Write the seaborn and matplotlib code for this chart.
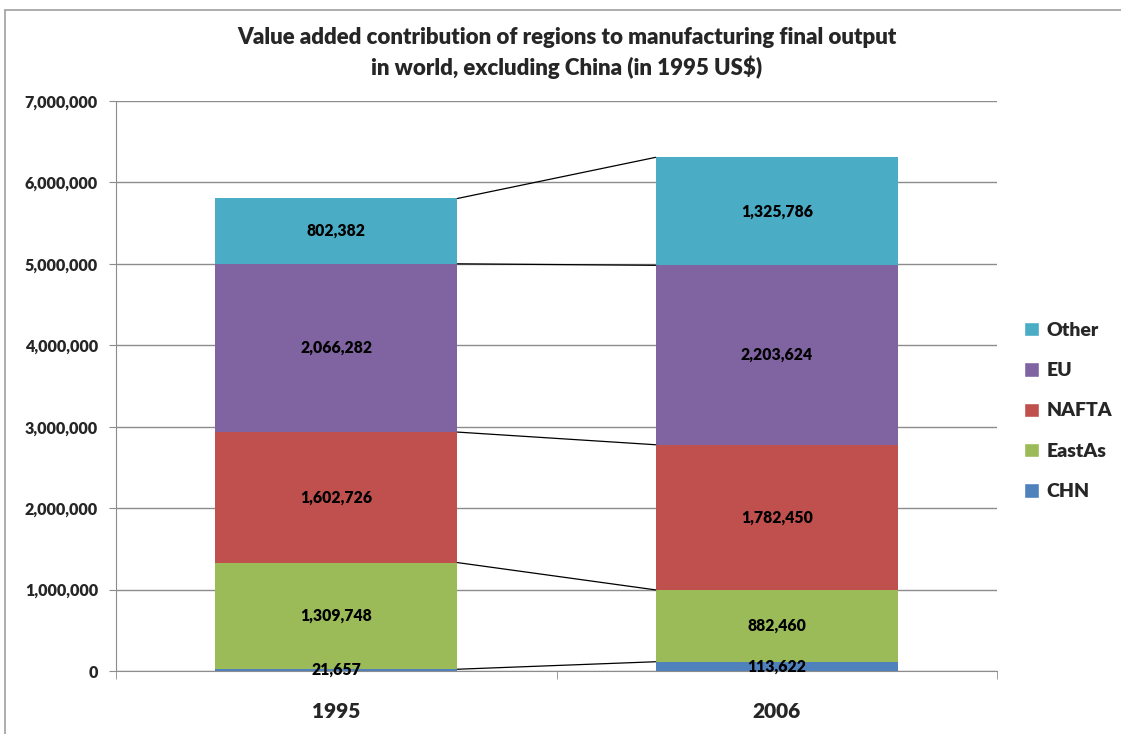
import matplotlib
matplotlib.use("Agg")
import matplotlib.pyplot as plt
import seaborn as sns
import numpy as np
from matplotlib.lines import Line2D
from matplotlib.patches import Patch
from matplotlib.ticker import FuncFormatter, FixedLocator

# data
years = ["1995", "2006"]
regions = ["CHN", "EastAs", "NAFTA", "EU", "Other"]
chn = [21657, 113622]
eastas = [1309748, 882460]
nafta = [1602726, 1782450]
eu = [2066282, 2203624]
other = [802382, 1325786]
colors = ["#4F81BD", "#9BBB59", "#C0504D", "#8064A2", "#4BACC6"]

sns.set_style("white")
plt.rcParams["font.family"] = ["Lato", "DejaVu Sans"]
W = 800  # heavy weight, closer to Calibri bold

fig = plt.figure(figsize=(11.21, 7.34), dpi=100)
ax = fig.add_axes([116 / 1121, 1 - 671 / 734, (997 - 116) / 1121, (671 - 101) / 734])

series = [chn, eastas, nafta, eu, other]
bottom = np.zeros(len(years))
bar_w = 0.55
tops = []
for name, vals, col in zip(regions, series, colors):
    vals = np.array(vals, dtype=float)
    sns.barplot(x=years, y=vals, bottom=bottom, color=col, width=bar_w,
                ax=ax, linewidth=0, saturation=1)
    for i, v in enumerate(vals):
        ax.text(i, bottom[i] + v / 2, f"{int(v):,}", ha="center", va="center",
                fontsize=11.3, fontweight=W, color="black")
    bottom = bottom + vals
    tops.append(bottom.copy())

# connector lines between series tops
for t in tops:
    ax.plot([bar_w / 2, 1 - bar_w / 2], [t[0], t[1]], color="black", lw=0.9, zorder=3)

ax.set_xlim(-0.5, 1.5)
ax.set_ylim(0, 7000000)
ax.set_yticks(np.arange(0, 7000001, 1000000))
ax.yaxis.set_major_formatter(FuncFormatter(lambda v, p: f"{int(v):,}"))
ax.grid(axis="y", color="#8c8c8c", lw=1)
ax.set_axisbelow(True)
for s in ["top", "right"]:
    ax.spines[s].set_visible(False)
ax.spines["left"].set_color("#8c8c8c")
ax.spines["bottom"].set_color("#8c8c8c")
ax.tick_params(axis="y", left=True, length=5, color="#8c8c8c", pad=8, labelsize=11.6)
ax.tick_params(axis="x", which="major", length=0, pad=22, labelsize=15)
ax.xaxis.set_minor_locator(FixedLocator([-0.5, 0.5, 1.5]))
ax.tick_params(axis="x", which="minor", bottom=True, length=6, color="#8c8c8c")
for lab in ax.get_yticklabels() + ax.get_xticklabels():
    lab.set_fontweight(W)
ax.set_xlabel("")
ax.set_ylabel("")

fig.text(567 / 1121, 1 - 53 / 734,
         "Value added contribution of regions to manufacturing final output\nin world, excluding China (in 1995 US$)",
         ha="center", va="center", fontsize=16, fontweight=W, linespacing=1.35)

handles = [Patch(facecolor=c, label=r) for r, c in zip(regions[::-1], colors[::-1])]
fig.legend(handles=handles, loc="center left", bbox_to_anchor=(1024 / 1121, 1 - 411 / 734),
           frameon=False, borderpad=0, borderaxespad=0, handlelength=0.75, handleheight=0.75,
           labelspacing=1.2, handletextpad=0.4, prop={"weight": W, "size": 14})

# outer chart frame
fy = 1 - 10 / 734
fx = 5 / 1121
fig.add_artist(Line2D([fx, 1], [fy, fy], color="#a0a0a0", lw=1.2))
fig.add_artist(Line2D([fx, fx], [0, fy], color="#a0a0a0", lw=1.2))

fig.savefig("out.png", dpi=100)
